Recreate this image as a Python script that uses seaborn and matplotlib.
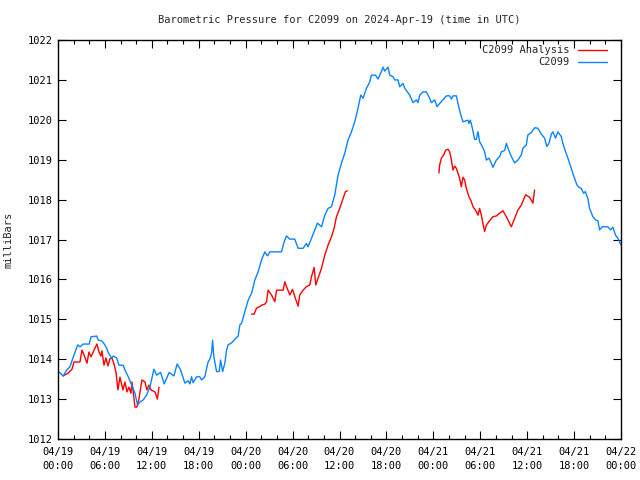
import numpy as np
import pandas as pd
import matplotlib
matplotlib.use("Agg")
import matplotlib.pyplot as plt
import seaborn as sns
from matplotlib.ticker import MultipleLocator, FixedLocator
from matplotlib.lines import Line2D

# ---- data (hours since 2024-04-19 00:00 UTC, pressure in mbar) ----
blue_h = [0.0, 0.68, 1.11, 1.53, 1.96, 2.52, 2.81, 3.23, 4.00, 4.22, 4.95, 5.15, 5.58, 5.92,
          6.22, 6.43, 6.86, 7.07, 7.50, 7.79, 8.34, 8.56, 8.98, 9.42, 9.84, 10.18, 10.48,
          10.90, 11.33, 11.76, 12.27, 12.61, 13.12, 13.58, 14.22, 14.82, 15.24, 15.68,
          16.23, 16.65, 16.87, 17.08, 17.29, 17.72, 18.14, 18.36, 18.78, 19.00, 19.21,
          19.42, 19.64, 19.77, 19.93, 20.28, 20.61, 20.79, 21.05, 21.34, 21.56, 21.76,
          22.20, 22.62, 23.04, 23.26, 23.47, 23.90, 24.32, 24.75, 25.17, 25.59, 26.03,
          26.45, 26.80, 27.09, 28.58, 28.92, 29.22, 29.64, 30.28, 30.71, 31.34, 31.78,
          31.98, 32.42, 32.84, 33.18, 33.70, 34.12, 34.54, 34.97, 35.40, 35.82, 36.25,
          36.67, 37.09, 37.53, 37.95, 38.37, 38.72, 39.01, 39.45, 39.87, 40.08, 40.60,
          40.93, 41.36, 41.57, 41.78, 42.21, 42.42, 42.84, 43.06, 43.48, 43.70, 44.12,
          44.34, 44.68, 44.98, 45.40, 45.83, 46.04, 46.26, 46.68, 47.11, 47.53, 47.75,
          48.17, 48.47, 48.81, 49.23, 49.67, 50.09, 50.31, 50.51, 50.95, 51.15, 51.46,
          51.79, 52.43, 52.56, 52.73, 52.99, 53.28, 53.50, 53.71, 53.92, 54.27, 54.56,
          54.78, 55.11, 55.42, 55.62, 56.06, 56.48, 56.70, 57.12, 57.34, 57.54, 57.97,
          58.40, 58.82, 59.25, 59.46, 59.89, 60.09, 60.53, 60.95, 61.37, 61.81, 62.23,
          62.52, 62.78, 63.09, 63.29, 63.63, 63.93, 64.36, 64.57, 64.91, 65.21, 65.64,
          66.06, 66.36, 66.61, 66.92, 67.21, 67.43, 67.76, 67.98, 68.40, 68.75, 69.04,
          69.26, 69.60, 70.32, 70.66, 70.96, 71.30, 71.60, 72.0]
blue_p = [1013.70, 1013.58, 1013.73, 1013.81, 1014.06, 1014.36, 1014.31, 1014.38, 1014.38,
          1014.56, 1014.58, 1014.48, 1014.46, 1014.38, 1014.28, 1014.16, 1014.03, 1014.08,
          1014.03, 1013.85, 1013.85, 1013.73, 1013.56, 1013.35, 1013.15, 1012.85, 1012.93,
          1012.98, 1013.10, 1013.31, 1013.75, 1013.60, 1013.67, 1013.38, 1013.67, 1013.58,
          1013.88, 1013.73, 1013.40, 1013.46, 1013.38, 1013.56, 1013.41, 1013.56, 1013.56,
          1013.48, 1013.56, 1013.77, 1013.94, 1014.00, 1014.15, 1014.48, 1014.06, 1013.69,
          1013.69, 1013.98, 1013.69, 1013.90, 1014.23, 1014.36, 1014.41, 1014.50, 1014.58,
          1014.86, 1014.90, 1015.19, 1015.48, 1015.65, 1015.98, 1016.19, 1016.49, 1016.69,
          1016.59, 1016.69, 1016.69, 1016.94, 1017.09, 1017.01, 1017.01, 1016.78, 1016.78,
          1016.90, 1016.82, 1017.03, 1017.24, 1017.41, 1017.32, 1017.61, 1017.78, 1017.82,
          1018.12, 1018.62, 1018.91, 1019.16, 1019.49, 1019.70, 1019.95, 1020.29, 1020.62,
          1020.54, 1020.79, 1020.95, 1021.12, 1021.12, 1021.02, 1021.21, 1021.32, 1021.22,
          1021.32, 1021.12, 1021.08, 1021.00, 1021.00, 1020.83, 1020.91, 1020.79, 1020.70,
          1020.62, 1020.43, 1020.50, 1020.43, 1020.62, 1020.70, 1020.70, 1020.54, 1020.43,
          1020.50, 1020.33, 1020.41, 1020.50, 1020.60, 1020.60, 1020.52, 1020.60, 1020.60,
          1020.41, 1020.16, 1019.95, 1019.99, 1019.91, 1019.99, 1019.79, 1019.51, 1019.51,
          1019.70, 1019.45, 1019.33, 1019.20, 1018.99, 1019.04, 1018.91, 1018.81, 1018.99,
          1019.08, 1019.20, 1019.23, 1019.41, 1019.29, 1019.08, 1018.92, 1018.99, 1019.12,
          1019.29, 1019.37, 1019.62, 1019.68, 1019.80, 1019.79, 1019.64, 1019.54, 1019.33,
          1019.41, 1019.64, 1019.70, 1019.54, 1019.70, 1019.58, 1019.41, 1019.20, 1019.04,
          1018.78, 1018.53, 1018.37, 1018.31, 1018.28, 1018.16, 1018.20, 1018.03, 1017.78,
          1017.57, 1017.49, 1017.47, 1017.24, 1017.32, 1017.32, 1017.24, 1017.31, 1017.11,
          1017.03, 1016.86]

red1_h = [0.64, 1.28, 1.79, 2.04, 2.81, 3.07, 3.32, 3.71, 3.96, 4.22, 4.73, 4.98, 5.24, 5.49,
          5.62, 5.88, 6.13, 6.39, 6.64, 6.90, 7.16, 7.41, 7.67, 7.92, 8.31, 8.56, 8.82, 9.07,
          9.33, 9.46, 9.71, 9.84, 10.09, 10.35, 10.73, 11.12, 11.37, 11.63, 11.88, 12.40,
          12.71, 12.91]
red1_p = [1013.58, 1013.65, 1013.75, 1013.93, 1013.93, 1014.23, 1014.11, 1013.90, 1014.18,
          1014.06, 1014.28, 1014.38, 1014.18, 1014.08, 1014.21, 1013.85, 1014.03, 1013.83,
          1014.01, 1014.03, 1013.88, 1013.68, 1013.23, 1013.55, 1013.23, 1013.43, 1013.18,
          1013.30, 1013.15, 1013.43, 1013.03, 1012.80, 1012.80, 1013.00, 1013.48, 1013.43,
          1013.23, 1013.35, 1013.23, 1013.18, 1013.00, 1013.30]

red2_h = [24.75, 25.08, 25.39, 25.81, 26.11, 26.45, 26.67, 26.87, 27.31, 27.73, 27.95, 28.79,
          29.01, 29.22, 29.65, 29.99, 30.28, 30.71, 30.92, 31.34, 31.78, 32.20, 32.42, 32.75,
          32.97, 33.26, 33.70, 34.12, 34.54, 34.97, 35.31, 35.61, 36.03, 36.46, 36.76, 36.99]
red2_p = [1015.13, 1015.13, 1015.28, 1015.32, 1015.36, 1015.38, 1015.44, 1015.73, 1015.61,
          1015.44, 1015.73, 1015.73, 1015.94, 1015.82, 1015.61, 1015.75, 1015.57, 1015.33,
          1015.61, 1015.73, 1015.82, 1015.86, 1016.07, 1016.30, 1015.86, 1016.03, 1016.28,
          1016.61, 1016.86, 1017.07, 1017.28, 1017.57, 1017.78, 1018.03, 1018.20, 1018.22]

red3_h = [48.72, 48.81, 49.03, 49.32, 49.58, 49.87, 50.09, 50.31, 50.51, 50.73, 50.95, 51.15,
          51.37, 51.58, 51.79, 52.01, 52.22, 52.56, 52.86, 53.07, 53.50, 53.71, 53.92, 54.14,
          54.34, 54.56, 54.78, 55.11, 55.62, 56.06, 56.48, 56.90, 57.34, 57.97, 58.40, 58.82,
          59.25, 59.80, 60.31, 60.73, 60.95]
red3_p = [1018.67, 1018.87, 1019.04, 1019.12, 1019.24, 1019.26, 1019.20, 1018.99, 1018.74,
          1018.84, 1018.78, 1018.66, 1018.53, 1018.32, 1018.56, 1018.49, 1018.28, 1018.07,
          1017.95, 1017.82, 1017.70, 1017.61, 1017.78, 1017.61, 1017.41, 1017.20, 1017.36,
          1017.45, 1017.57, 1017.59, 1017.66, 1017.72, 1017.57, 1017.32, 1017.53, 1017.74,
          1017.86, 1018.12, 1018.06, 1017.91, 1018.24]

xtick_hours = [0, 6, 12, 18, 24, 30, 36, 42, 48, 54, 60, 66, 72]
xtick_labels = ["04/19\n00:00", "04/19\n06:00", "04/19\n12:00", "04/19\n18:00",
                "04/20\n00:00", "04/20\n06:00", "04/20\n12:00", "04/20\n18:00",
                "04/21\n00:00", "04/21\n06:00", "04/21\n12:00", "04/21\n18:00",
                "04/22\n00:00"]
series_names = ["C2099 Analysis", "C2099"]
title = "Barometric Pressure for C2099 on 2024-Apr-19 (time in UTC)"

# ---- build frames ----
blue_df = pd.DataFrame({"hour": blue_h, "pressure": blue_p})
red_df = pd.concat([
    pd.DataFrame({"hour": red1_h, "pressure": red1_p, "seg": 1}),
    pd.DataFrame({"hour": red2_h, "pressure": red2_p, "seg": 2}),
    pd.DataFrame({"hour": red3_h, "pressure": red3_p, "seg": 3}),
], ignore_index=True)

sns.set_theme(style="white")
plt.rcParams["font.family"] = ["DejaVu Sans Mono", "DejaVu Sans"]

fig = plt.figure(figsize=(6.4, 4.8), dpi=100)
ax = fig.add_axes([58 / 640, 1 - 439 / 480, (621 - 58) / 640, (439 - 40) / 480])

RED = "#ff0000"
BLUE = "#0a84ff"

sns.lineplot(data=red_df, x="hour", y="pressure", units="seg", estimator=None,
             color=RED, linewidth=1.0, ax=ax, sort=False)
sns.lineplot(data=blue_df, x="hour", y="pressure", color=BLUE, linewidth=1.0,
             ax=ax, sort=False)

ax.set_xlim(0, 72)
ax.set_ylim(1012, 1022)

ax.xaxis.set_major_locator(FixedLocator(xtick_hours))
ax.set_xticklabels(xtick_labels, linespacing=1.5)
ax.xaxis.set_minor_locator(MultipleLocator(2))
ax.yaxis.set_major_locator(MultipleLocator(1))
ax.yaxis.set_major_formatter(matplotlib.ticker.FormatStrFormatter("%d"))

for s in ax.spines.values():
    s.set_visible(True)
    s.set_color("black")
    s.set_linewidth(1.0)

ax.tick_params(axis="both", which="both", direction="in", top=True, right=True,
               bottom=True, left=True, colors="black", labelsize=7.5, width=0.8)
ax.tick_params(axis="both", which="major", length=6, pad=4)
ax.tick_params(axis="both", which="minor", length=3)
ax.tick_params(axis="x", which="major", pad=6)

ax.set_xlabel("")
ax.set_ylabel("milliBars", fontsize=7.5, labelpad=10)
ax.set_title(title, fontsize=7.5, pad=12)

handles = [Line2D([], [], color=RED, lw=1.0), Line2D([], [], color=BLUE, lw=1.0)]
leg = ax.legend(handles, series_names, loc="upper right",
                bbox_to_anchor=(1 - 9 / 563, 1.0), frameon=False,
                markerfirst=False, fontsize=7.5, handlelength=2.8, handletextpad=0.8,
                labelspacing=0.2, borderaxespad=0.2, borderpad=0.3)
for t in leg.get_texts():
    t.set_ha("right")

fig.savefig("out.png", dpi=100, facecolor="white")
